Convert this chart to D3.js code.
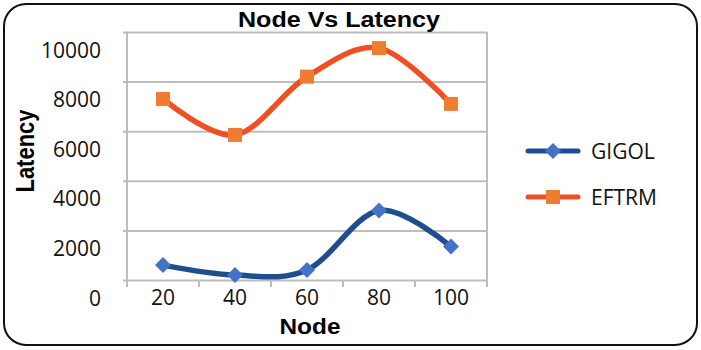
<!DOCTYPE html>
<html>
<head>
<meta charset="utf-8">
<script src="https://cdn.jsdelivr.net/npm/d3@7"></script>
<style>
  body { margin: 0; background: #fff; }
  svg { display: block; }
</style>
</head>
<body>
<div id="container"></div>
<script>
// data
const nodes = [20, 40, 60, 80, 100]
const gigol = [600, 200, 400, 2800, 1350]
const eftrm = [7300, 5850, 8200, 9350, 7100]
const yTicks = [0, 2000, 4000, 6000, 8000, 10000]
const seriesNames = ['GIGOL', 'EFTRM']

const W = 701, H = 350
const margin = {top: 32, right: 214, bottom: 70, left: 127}
const width = W - margin.left - margin.right
const height = H - margin.top - margin.bottom
const bold = 'Liberation Sans, Arial, sans-serif'
const plain = 'Open Sans, sans-serif'

const svg = d3.select('#container').append('svg')
  .attr('width', W).attr('height', H)

// outer rounded frame
svg.append('rect')
  .attr('x', 4).attr('y', 4).attr('width', W - 8).attr('height', H - 9)
  .attr('rx', 22).attr('ry', 22)
  .attr('fill', '#fff').attr('stroke', '#111').attr('stroke-width', 2)

const g = svg.append('g')
  .attr('transform', 'translate(' + margin.left + ',' + margin.top + ')')

const x = d3.scaleBand().domain(nodes).range([0, width])
const y = d3.scaleLinear().domain([0, 10000]).range([height, 0])

// gridlines + left axis
const yAxis = g.append('g')
  .call(d3.axisLeft(y).tickValues(yTicks).tickSize(-width - 4).tickFormat(d => d))
  .attr('transform', 'translate(-4,0)')
yAxis.select('.domain').remove()
yAxis.selectAll('.tick line').attr('stroke', '#bdbdbd').attr('stroke-width', 2)
yAxis.selectAll('.tick text')
  .attr('x', -22).attr('dy', '1.2em')
  .style('font-family', plain)
  .style('font-size', '21px').attr('fill', '#111')

// left and right vertical borders
g.append('line').attr('x1', 0).attr('x2', 0).attr('y1', 0).attr('y2', height)
  .attr('stroke', '#bdbdbd').attr('stroke-width', 2)
g.append('line').attr('x1', width).attr('x2', width).attr('y1', 0).attr('y2', height + 7)
  .attr('stroke', '#bdbdbd').attr('stroke-width', 2)

// x axis
const xAxis = g.append('g')
  .attr('transform', 'translate(0,' + height + ')')
  .call(d3.axisBottom(x).tickSize(0))
xAxis.select('.domain').remove()
xAxis.selectAll('.tick text')
  .attr('dy', '1.05em')
  .style('font-family', plain)
  .style('font-size', '21px').attr('fill', '#111')
g.append('g').selectAll('line')
  .data(nodes)
  .join('line')
  .attr('x1', d => x(d)).attr('x2', d => x(d))
  .attr('y1', height).attr('y2', height + 7)
  .attr('stroke', '#bdbdbd').attr('stroke-width', 2)

const line = d3.line()
  .x((d, i) => x(nodes[i]) + x.bandwidth() / 2)
  .y(d => y(d))
  .curve(d3.curveCardinal)

// EFTRM
g.append('path').datum(eftrm)
  .attr('d', line).attr('fill', 'none')
  .attr('stroke', '#f04e23').attr('stroke-width', 5.5)
g.selectAll('rect.eft').data(eftrm).join('rect')
  .attr('class', 'eft')
  .attr('x', (d, i) => x(nodes[i]) + x.bandwidth() / 2 - 7)
  .attr('y', d => y(d) - 7)
  .attr('width', 14).attr('height', 14)
  .attr('fill', '#ee7d31')

// GIGOL
g.append('path').datum(gigol)
  .attr('d', line).attr('fill', 'none')
  .attr('stroke', '#1f4e8e').attr('stroke-width', 5.5)
g.selectAll('path.gig').data(gigol).join('path')
  .attr('class', 'gig')
  .attr('transform', (d, i) => 'translate(' + (x(nodes[i]) + x.bandwidth() / 2) + ',' + y(d) + ')')
  .attr('d', 'M0,-8L8,0L0,8L-8,0Z')
  .attr('fill', '#4472c4')

// titles (reference text is a bit stretched sideways)
svg.append('text')
  .attr('transform', 'translate(' + (margin.left + width / 2 + 32) + ',27) scale(1.14,1)')
  .attr('text-anchor', 'middle')
  .style('font-family', bold)
  .style('font-weight', 'bold').style('font-size', '22px')
  .text('Node Vs Latency')

svg.append('text')
  .attr('transform', 'translate(310,334) scale(1.11,1)')
  .attr('text-anchor', 'middle')
  .style('font-family', bold)
  .style('font-weight', 'bold').style('font-size', '22px')
  .text('Node')

svg.append('text')
  .attr('transform', 'translate(34,151) scale(1.2,1) rotate(-90)')
  .attr('text-anchor', 'middle')
  .style('font-family', bold)
  .style('font-weight', 'bold').style('font-size', '22px')
  .text('Latency')

// legend
const legend = svg.append('g')
const legendY = [151, 197]
const lineColors = ['#1f4e8e', '#f04e23']
seriesNames.forEach((name, i) => {
  const row = legend.append('g').attr('transform', 'translate(0,' + legendY[i] + ')')
  row.append('line').attr('x1', 528).attr('x2', 578)
    .attr('stroke', lineColors[i]).attr('stroke-width', 5).attr('stroke-linecap', 'round')
  if (i === 0) {
    row.append('path').attr('d', 'M553,-8L561,0L553,8L545,0Z').attr('fill', '#4472c4')
  } else {
    row.append('rect').attr('x', 546).attr('y', -7).attr('width', 14).attr('height', 14).attr('fill', '#ee7d31')
  }
  row.append('text').attr('x', 591).attr('y', 8)
    .style('font-family', plain)
    .style('font-size', '21px').attr('fill', '#111')
    .text(name)
})
</script>
</body>
</html>
